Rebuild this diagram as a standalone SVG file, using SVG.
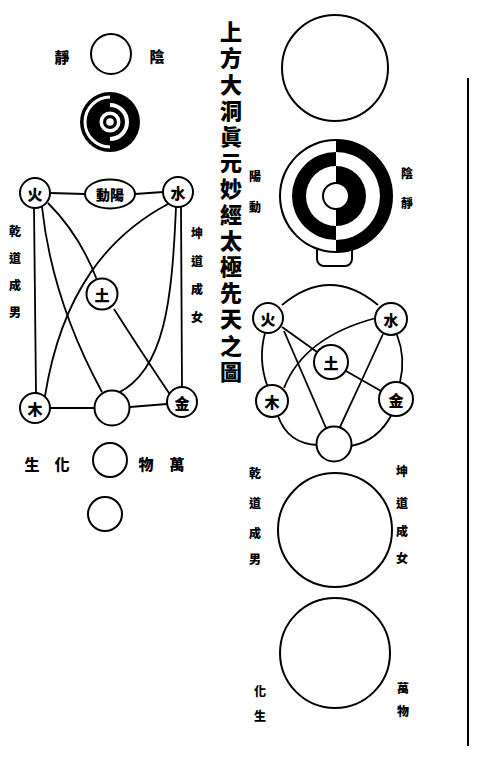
<svg xmlns="http://www.w3.org/2000/svg" width="477" height="764" viewBox="0 0 477 764">
<style>
.bg{fill:#fff}
.c{fill:#fff;stroke:#000;stroke-width:2}
.ln{fill:none;stroke:#000;stroke-width:1.8}
.t{font-family:"Noto Sans CJK TC","Noto Sans CJK SC",sans-serif;font-weight:900;text-anchor:middle;dominant-baseline:central;fill:#000}
.n{font-size:15px}
.s{font-size:12px}
.m{font-size:15px}
.title{font-family:"Noto Sans CJK TC","Noto Sans CJK SC",sans-serif;font-weight:900;font-size:22px;writing-mode:vertical-rl;letter-spacing:4.1px;fill:#000}
</style>
<rect class="bg" width="477" height="764"/>

<g id="title">
<text class="title" x="231" y="21">上方大洞眞元妙經太極先天之圖</text>
</g>

<g id="right-rule"><line x1="468" y1="78" x2="468" y2="746" stroke="#000" stroke-width="2"/></g>

<!-- LEFT COLUMN -->
<g id="L-top">
<circle class="c" cx="111" cy="54" r="20"/>
<text class="t m" x="62" y="56">靜</text>
<text class="t m" x="157" y="55">陰</text>
</g>

<g id="L-taiji">
<circle cx="110" cy="122" r="30" fill="#000"/>
<path d="M110,97 A25,25 0 0 0 110,147" fill="none" stroke="#fff" stroke-width="3"/>
<path d="M110,105 A17,17 0 0 1 110,139" fill="none" stroke="#fff" stroke-width="4"/>
<circle cx="110" cy="122" r="10.5" fill="#fff"/>
<circle cx="110" cy="122" r="7" fill="#000"/>
<circle cx="110" cy="122" r="3.8" fill="#fff"/>
</g>

<g id="L-connectors">
<line class="ln" x1="50" y1="193" x2="85" y2="194"/>
<line class="ln" x1="135" y1="194" x2="163" y2="192"/>
<line class="ln" x1="34" y1="208" x2="36" y2="393"/>
<line class="ln" x1="181" y1="207" x2="182" y2="387"/>
<line class="ln" x1="50" y1="408" x2="95" y2="408"/>
<line class="ln" x1="130" y1="407" x2="167" y2="404"/>
<path class="ln" d="M48,203 Q80,235 97,280"/>
<path class="ln" d="M114,309 Q140,350 171,396"/>
<path class="ln" d="M42,207 Q52,300 102,392"/>
<path class="ln" d="M168,204 C110,235 62,290 45,396"/>
<path class="ln" d="M176,207 C172,300 165,370 118,393"/>
</g>

<g id="L-fire"><circle class="c" cx="35" cy="193" r="15"/><text class="t n" x="35" y="193">火</text></g>
<g id="L-yang"><ellipse class="c" cx="110" cy="194" rx="25" ry="14.5"/><text class="t" style="font-size:14px" x="110" y="194">動陽</text></g>
<g id="L-water"><circle class="c" cx="178" cy="192" r="15"/><text class="t n" x="178" y="192">水</text></g>
<g id="L-earth"><circle class="c" cx="102" cy="294" r="15.5"/><text class="t n" x="102" y="294">土</text></g>
<g id="L-wood"><circle class="c" cx="35" cy="408" r="15"/><text class="t n" x="35" y="408">木</text></g>
<g id="L-center"><circle class="c" cx="112" cy="408" r="17.5"/></g>
<g id="L-metal"><circle class="c" cx="182" cy="402" r="15"/><text class="t n" x="182" y="402">金</text></g>

<g id="L-labels">
<text class="t s" x="15" y="230">乾</text><text class="t s" x="15" y="257">道</text><text class="t s" x="15" y="284">成</text><text class="t s" x="15" y="311">男</text>
<text class="t s" x="197" y="232">坤</text><text class="t s" x="197" y="260">道</text><text class="t s" x="197" y="288">成</text><text class="t s" x="197" y="316">女</text>
</g>

<g id="L-wanwu">
<circle class="c" cx="110" cy="460" r="17"/>
<text class="t m" x="32" y="463">生</text>
<text class="t m" x="62" y="463">化</text>
<text class="t m" x="146" y="463">物</text>
<text class="t m" x="177" y="463">萬</text>
</g>
<g id="L-bottom"><circle class="c" cx="105" cy="514" r="17"/></g>

<!-- RIGHT COLUMN -->
<g id="R-top"><circle class="c" cx="335" cy="68" r="53"/></g>

<g id="R-taiji">
<rect x="317" y="244" width="35" height="22" rx="7" class="c"/>
<circle cx="336" cy="196" r="56" fill="#000" stroke="#000" stroke-width="2"/>
<path d="M336,141 A55,55 0 0 0 336,251 L336,240 A44,44 0 0 1 336,152 Z" fill="#fff"/>
<path d="M336,166 A30,30 0 0 0 336,226 L336,209 A13,13 0 0 1 336,183 Z" fill="#fff"/>
<path d="M336,152 A44,44 0 0 1 336,240 L336,226 A30,30 0 0 0 336,166 Z" fill="#fff"/>
<circle cx="336" cy="196" r="13" fill="#fff" stroke="#000" stroke-width="2"/>
<text class="t s" x="255" y="175">陽</text>
<text class="t s" x="255" y="206">動</text>
<text class="t s" x="407" y="172">陰</text>
<text class="t s" x="407" y="202">靜</text>
</g>

<g id="R-connectors">
<path class="ln" d="M282,305 Q330,265 378,305"/>
<path class="ln" d="M265,333 Q258,359 267,385"/>
<path class="ln" d="M397,335 Q406,358 400,382"/>
<path class="ln" d="M278,416 Q288,444 318,445"/>
<path class="ln" d="M392,414 Q378,441 351,446"/>
<line class="ln" x1="282" y1="327" x2="317" y2="352"/>
<line class="ln" x1="346" y1="371" x2="381" y2="391"/>
<line class="ln" x1="284" y1="331" x2="326" y2="428"/>
<path class="ln" d="M376,318 Q304,337 284,388"/>
<path class="ln" d="M383,334 Q362,380 340,427"/>
</g>

<g id="R-fire"><circle class="c" cx="268" cy="318" r="15"/><text class="t n" x="268" y="318">火</text></g>
<g id="R-water"><circle class="c" cx="391" cy="319" r="16"/><text class="t n" x="391" y="319">水</text></g>
<g id="R-earth"><circle class="c" cx="331" cy="362" r="17"/><text class="t n" x="331" y="362">土</text></g>
<g id="R-wood"><circle class="c" cx="272" cy="401" r="16"/><text class="t n" x="272" y="401">木</text></g>
<g id="R-metal"><circle class="c" cx="396" cy="399" r="17"/><text class="t n" x="396" y="399">金</text></g>
<g id="R-center"><circle class="c" cx="334" cy="444" r="17.5"/></g>

<g id="R-qiankun">
<circle class="c" cx="335" cy="530" r="57"/>
<text class="t s" x="255" y="472">乾</text><text class="t s" x="255" y="502">道</text><text class="t s" x="255" y="532">成</text><text class="t s" x="255" y="558">男</text>
<text class="t s" x="402" y="470">坤</text><text class="t s" x="402" y="502">道</text><text class="t s" x="402" y="530">成</text><text class="t s" x="402" y="557">女</text>
</g>

<g id="R-wanwu">
<circle class="c" cx="335" cy="653" r="55"/>
<text class="t s" x="260" y="690">化</text><text class="t s" x="260" y="715">生</text>
<text class="t s" x="403" y="687">萬</text><text class="t s" x="403" y="710">物</text>
</g>
</svg>
